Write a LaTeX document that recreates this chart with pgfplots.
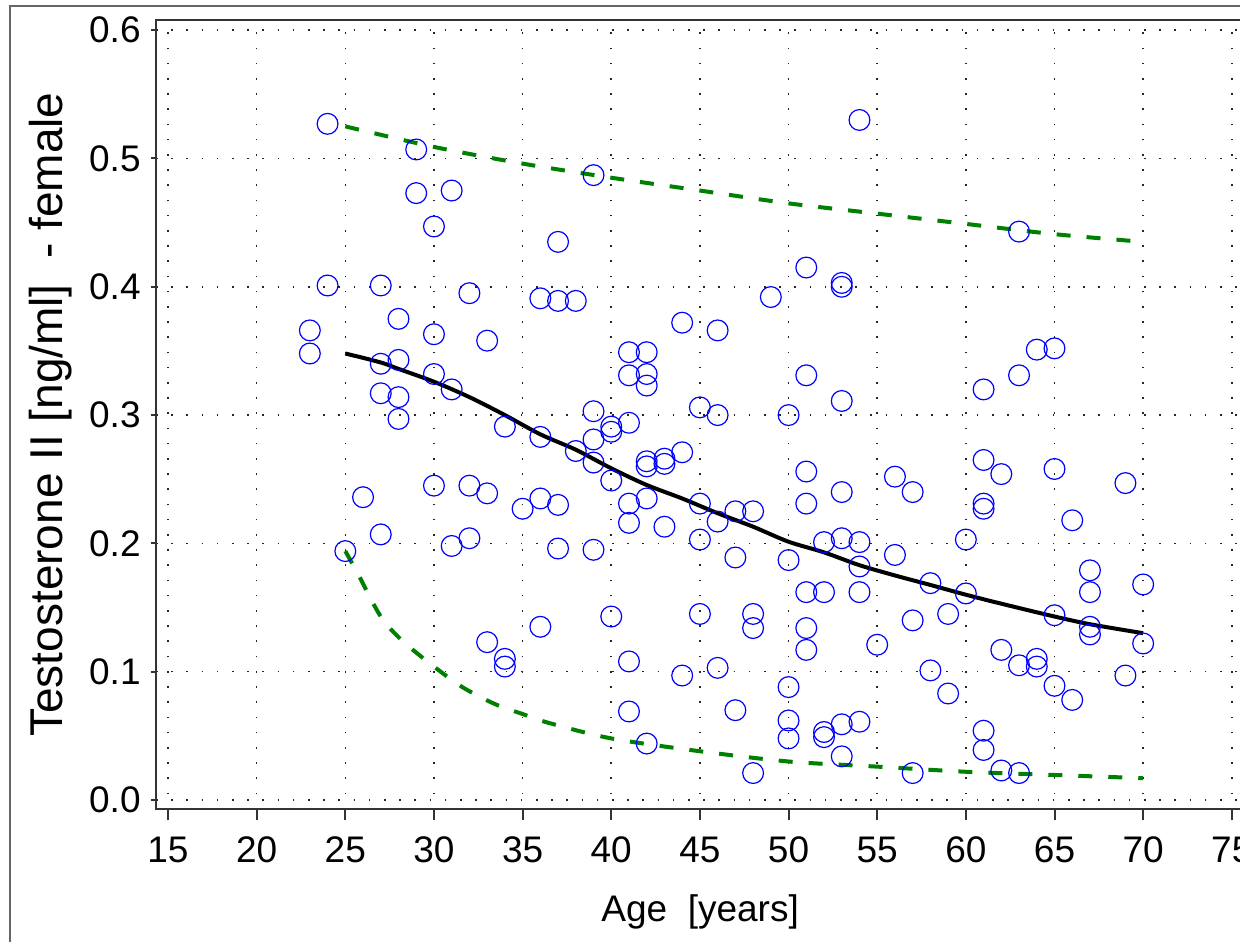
\documentclass[border=0pt]{standalone}
\usepackage{fontspec}
\setmainfont{Liberation Sans}
\usepackage{pgfplots}
\pgfplotsset{compat=1.18}
\definecolor{dgreen}{RGB}{0,128,0}
\begin{document}
\begin{tikzpicture}
\path[use as bounding box] (-78pt,-65.85pt) rectangle (542pt,404.65pt);
\draw[black!60, line width=1pt] (-73pt,-80pt) -- (-73pt,401.65pt) -- (560pt,401.65pt);
\begin{axis}[
  scale only axis, width=544.1pt, height=394.7pt,
  xmin=14.323, xmax=75.7, ymin=-0.00725, ymax=0.608,
  xtick={15,20,25,30,35,40,45,50,55,60,65,70,75},
  ytick={0,0.1,0.2,0.3,0.4,0.5,0.6},
  tick align=outside, major tick length=5.5pt,
  xtick pos=bottom, ytick pos=left,
  ytick style={/pgfplots/major tick length=2.5pt},
  tick style={black!80, line width=1pt},
  axis line style={black!80, line width=1pt},
  grid=major,
  major grid style={black!85, line width=0.8pt, dash pattern=on 0.8pt off 6.8pt},
  /pgf/number format/assume math mode=true,
  ticklabel style={font=\fontsize{18.5}{20}\selectfont, inner sep=0pt},
  yticklabel style={/pgf/number format/fixed, /pgf/number format/fixed zerofill, /pgf/number format/precision=1},
  xticklabel style={/pgf/number format/1000 sep={}},
  yticklabel shift=2pt,
  xticklabel shift=8.1pt,
  every axis x label/.style={at={(axis description cs:0.5,0)}, anchor=base, yshift=-56.2pt, font=\fontsize{18.5}{21}\selectfont},
  every axis y label/.style={at={(axis description cs:-0.08546,0.5)}, rotate=90, anchor=base, font=\fontsize{23}{25}\selectfont},
  xlabel={Age\ \ [years]},
  ylabel={Testosterone II [ng/ml]\ \ - female},
]
\addplot[only marks, mark=o, mark size=5.2pt, color=blue, mark options={line width=0.6pt}] table[x=x, y=y] {
x y
23 0.366
23 0.348
24 0.527
24 0.401
25 0.194
26 0.236
27 0.401
27 0.340
27 0.317
27 0.207
28 0.375
28 0.343
28 0.314
28 0.297
29 0.507
29 0.473
30 0.447
30 0.363
30 0.332
30 0.245
31 0.475
31 0.320
31 0.198
32 0.395
32 0.245
32 0.204
33 0.358
33 0.239
33 0.123
34 0.291
34 0.110
34 0.104
35 0.227
36 0.391
36 0.283
36 0.235
36 0.135
37 0.435
37 0.389
37 0.230
37 0.196
38 0.389
38 0.272
39 0.487
39 0.303
39 0.281
39 0.263
39 0.195
40 0.291
40 0.287
40 0.249
40 0.143
41 0.349
41 0.331
41 0.294
41 0.231
41 0.216
41 0.108
41 0.069
42 0.349
42 0.332
42 0.323
42 0.264
42 0.260
42 0.235
42 0.044
43 0.266
43 0.262
43 0.213
44 0.372
44 0.271
44 0.097
45 0.306
45 0.231
45 0.203
45 0.145
46 0.366
46 0.300
46 0.217
46 0.103
47 0.225
47 0.189
47 0.070
48 0.225
48 0.145
48 0.134
48 0.021
49 0.392
50 0.300
50 0.187
50 0.088
50 0.062
50 0.048
51 0.415
51 0.331
51 0.256
51 0.231
51 0.162
51 0.134
51 0.117
52 0.201
52 0.162
52 0.053
52 0.049
53 0.403
53 0.400
53 0.311
53 0.240
53 0.204
53 0.059
53 0.034
54 0.530
54 0.201
54 0.182
54 0.162
54 0.061
55 0.121
56 0.252
56 0.191
57 0.240
57 0.140
57 0.021
58 0.169
58 0.101
59 0.145
59 0.083
60 0.203
60 0.161
61 0.320
61 0.265
61 0.231
61 0.227
61 0.054
61 0.039
62 0.254
62 0.117
62 0.023
63 0.443
63 0.331
63 0.105
63 0.021
64 0.351
64 0.110
64 0.104
65 0.352
65 0.258
65 0.144
65 0.089
66 0.218
66 0.078
67 0.179
67 0.162
67 0.135
67 0.129
69 0.247
69 0.097
70 0.168
70 0.122
};
\addplot[black, line width=2pt, smooth] table[x=x, y=y] {
x y
25 0.348
27 0.341
28 0.336
30 0.326
32 0.314
34 0.300
36 0.285
38 0.273
40 0.2585
42 0.2455
44 0.235
46 0.2235
48 0.213
50 0.2013
52 0.193
54 0.183
56 0.175
58 0.1676
60 0.160
62 0.153
65 0.143
67 0.137
70 0.130
};
\addplot[dgreen, line width=2pt, dash pattern=on 7pt off 8pt, smooth] table[x=x, y=y] {
x y
25 0.525
30 0.509
35 0.496
40 0.485
45 0.475
50 0.465
55 0.457
60 0.449
65 0.441
70 0.435
};
\addplot[dgreen, line width=2pt, dash pattern=on 7pt off 8pt, smooth] table[x=x, y=y] {
x y
25 0.194
25.8 0.174
26.5 0.155
27.2 0.139
28.3 0.123
30 0.104
31.6 0.088
33.4 0.075
35 0.067
36.5 0.060
40 0.048
45 0.038
50 0.030
55 0.026
60 0.022
65 0.0195
70 0.017
};
\end{axis}
\end{tikzpicture}
\end{document}
